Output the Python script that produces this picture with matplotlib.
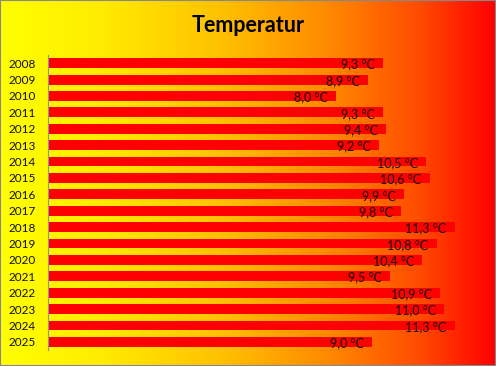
import matplotlib
matplotlib.use("Agg")
import matplotlib.pyplot as plt
import numpy as np
from matplotlib.colors import LinearSegmentedColormap
from matplotlib.patches import Rectangle

# --- Daten ---
years = ["2008", "2009", "2010", "2011", "2012", "2013", "2014", "2015", "2016",
         "2017", "2018", "2019", "2020", "2021", "2022", "2023", "2024", "2025"]
temps = [9.3, 8.9, 8.0, 9.3, 9.4, 9.2, 10.5, 10.6, 9.9,
         9.8, 11.3, 10.8, 10.4, 9.5, 10.9, 11.0, 11.3, 9.0]
title = "Temperatur"

plt.rcParams["font.family"] = ["Lato", "DejaVu Sans"]

fig = plt.figure(figsize=(4.96, 3.66), dpi=100)

# Hintergrund: Verlauf gelb -> rot
bg = fig.add_axes([0, 0, 1, 1], zorder=-1)
cmap = LinearSegmentedColormap.from_list(
    "gelbrot",
    [(0.0, "#FFFF00"), (0.2, "#FFEC00"), (0.45, "#FFC000"),
     (0.66, "#FF8A00"), (0.85, "#FF4A00"), (1.0, "#FF0000")])
grad = np.linspace(0, 1, 512).reshape(1, -1)
bg.imshow(grad, aspect="auto", cmap=cmap, extent=[0, 1, 0, 1])
bg.set_axis_off()

ax = fig.add_axes([48 / 496, 16 / 366, 432 / 496, 295 / 366])
ax.set_facecolor("none")

y = np.arange(len(years))
ax.barh(y, temps, height=0.6, color="#FF0000")
ax.set_xlim(0, 12)
ax.set_ylim(len(years) - 0.5, -0.5)

for yi, t in zip(y, temps):
    ax.annotate(f"{t:.1f} °C".replace(".", ","), (t, yi), xytext=(-6, -1),
                textcoords="offset points", ha="right", va="center",
                fontsize=9, color="#111111")

ax.set_yticks(y)
ax.set_yticklabels(years, fontsize=8.5, color="#111111")
ax.tick_params(axis="y", length=0, pad=9)
ax.set_xticks([])
for s in ["top", "right", "bottom"]:
    ax.spines[s].set_visible(False)
ax.spines["left"].set_color("#8896A8")
ax.spines["left"].set_linewidth(0.8)

fig.text(0.5, 1 - 25 / 366, title, ha="center", va="center",
         fontsize=15.5, fontweight="bold", color="#000000")

fig.patches.append(Rectangle((0, 0), 1, 1, transform=fig.transFigure,
                             fill=False, edgecolor="#888888", linewidth=1.5))

fig.savefig("out.png", dpi=100)
